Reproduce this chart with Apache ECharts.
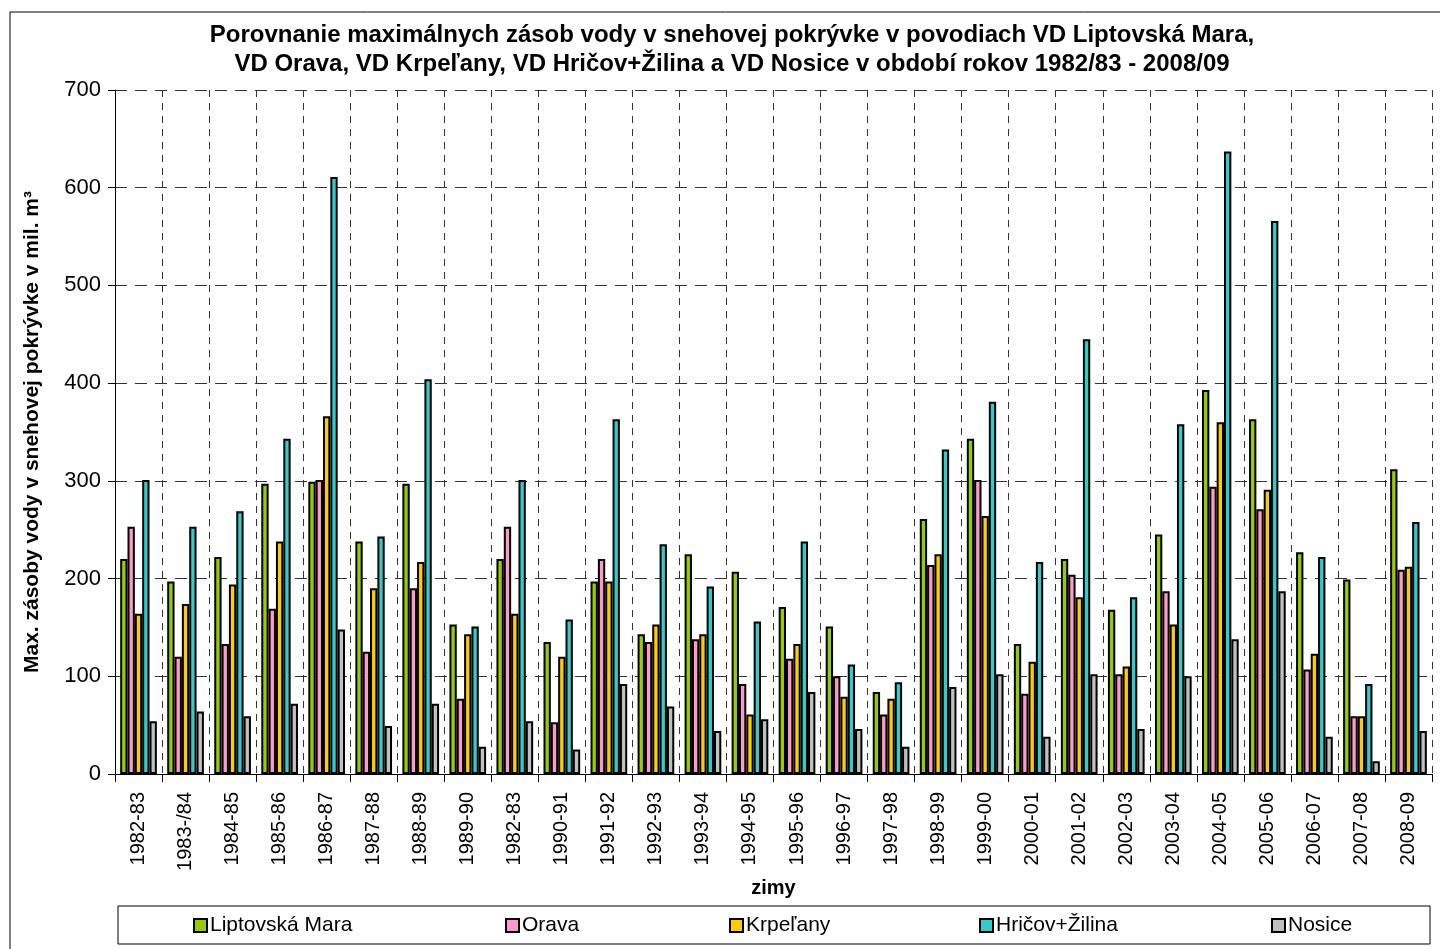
<!DOCTYPE html>
<html>
<head>
<meta charset="utf-8">
<script src="https://cdn.jsdelivr.net/npm/echarts@6/dist/echarts.min.js"></script>
<style>
  html, body { margin: 0; padding: 0; background: #fff; }
  #chart { width: 1440px; height: 949px; }
</style>
</head>
<body>
<div id="chart"></div>
<script>
// zimy (winters) - the 9th label repeats 1982-83 as in the original
const zimy = ['1982-83', '1983-/84', '1984-85', '1985-86', '1986-87', '1987-88', '1988-89', '1989-90',
  '1982-83', '1990-91', '1991-92', '1992-93', '1993-94', '1994-95', '1995-96', '1996-97', '1997-98',
  '1998-99', '1999-00', '2000-01', '2001-02', '2002-03', '2003-04', '2004-05', '2005-06', '2006-07',
  '2007-08', '2008-09']

const liptovskaMara = [220, 197, 222, 297, 299, 238, 297, 153, 220, 135, 197, 143, 225, 207, 171, 151, 84, 261, 343, 133, 220, 168, 245, 393, 363, 227, 199, 312]
const orava = [253, 120, 133, 169, 301, 125, 190, 77, 253, 53, 220, 135, 138, 92, 118, 100, 61, 214, 301, 82, 204, 102, 187, 294, 271, 107, 59, 209]
const krpelany = [164, 174, 194, 238, 366, 190, 217, 143, 164, 120, 197, 153, 143, 61, 133, 79, 77, 225, 264, 115, 181, 110, 153, 360, 291, 123, 59, 212]
const hricovZilina = [301, 253, 269, 343, 611, 243, 404, 151, 301, 158, 363, 235, 192, 156, 238, 112, 94, 332, 381, 217, 445, 181, 358, 637, 566, 222, 92, 258]
const nosice = [54, 64, 59, 72, 148, 49, 72, 28, 54, 25, 92, 69, 44, 56, 84, 46, 28, 89, 102, 38, 102, 46, 100, 138, 187, 38, 13, 44]

const seriesNames = ['Liptovská Mara', 'Orava', 'Krpeľany', 'Hričov+Žilina', 'Nosice']
const seriesColors = ['#99CC00', '#FF99CC', '#FFCC00', '#33CCCC', '#C0C0C0']
const seriesData = [liptovskaMara, orava, krpelany, hricovZilina, nosice]
const legendLeft = [193, 505, 729, 979, 1271]

const font = 'Liberation Sans, Arial, sans-serif'

const chart = echarts.init(document.getElementById('chart'))

const option = {
  animation: false,
  backgroundColor: '#fff',
  textStyle: { fontFamily: font },
  title: {
    text: 'Porovnanie maximálnych zásob vody v snehovej pokrývke v povodiach VD Liptovská Mara,\nVD Orava, VD Krpeľany, VD Hričov+Žilina a VD Nosice v období rokov 1982/83 - 2008/09',
    left: 727,
    textAlign: 'center',
    top: 16,
    textStyle: {
      fontFamily: font,
      fontSize: 24,
      fontWeight: 'bold',
      color: '#000',
      lineHeight: 29
    }
  },
  legend: seriesNames.map((name, i) => ({
    data: [name],
    left: legendLeft[i],
    top: 915,
    padding: 0,
    itemWidth: 13,
    itemHeight: 13,
    icon: 'rect',
    itemStyle: { borderColor: '#000', borderWidth: 2 },
    textStyle: { fontFamily: font, fontSize: 21, color: '#000', padding: [0, 0, 0, -2] }
  })),
  grid: {
    left: 115,
    right: 8,
    top: 90,
    bottom: 175
  },
  xAxis: {
    type: 'category',
    data: zimy,
    name: 'zimy',
    nameLocation: 'middle',
    nameGap: 103,
    nameTextStyle: { fontFamily: font, fontSize: 20, fontWeight: 'bold', color: '#000' },
    axisLine: { lineStyle: { color: '#000', width: 1 } },
    axisTick: { show: true, length: 8, lineStyle: { color: '#000' } },
    axisLabel: {
      rotate: 90,
      interval: 0,
      margin: 18,
      fontFamily: font,
      fontSize: 20,
      color: '#000'
    },
    splitLine: {
      show: true,
      lineStyle: { color: '#333', type: [7, 6], width: 1 }
    }
  },
  yAxis: {
    type: 'value',
    min: 0,
    max: 700,
    interval: 100,
    name: 'Max. zásoby vody v snehovej pokrývke v mil. m³',
    nameLocation: 'middle',
    nameGap: 72,
    nameTextStyle: { fontFamily: font, fontSize: 21, fontWeight: 'bold', color: '#000' },
    axisLine: { show: true, lineStyle: { color: '#000', width: 1 } },
    axisTick: { show: true, length: 7, lineStyle: { color: '#000' } },
    axisLabel: { margin: 14, fontFamily: font, fontSize: 22, color: '#000' },
    splitLine: {
      show: true,
      lineStyle: { color: '#333', type: [12, 8], width: 1 }
    }
  },
  graphic: [
    {
      type: 'rect',
      shape: { x: 10, y: 12, width: 1450, height: 960 },
      style: { fill: 'none', stroke: '#000', lineWidth: 1 },
      silent: true
    },
    {
      type: 'rect',
      shape: { x: 118, y: 906, width: 1312, height: 38 },
      style: { fill: 'none', stroke: '#000', lineWidth: 1 },
      silent: true
    }
  ],
  series: seriesNames.map((name, i) => ({
    name: name,
    type: 'bar',
    data: seriesData[i],
    barGap: '0%',
    barCategoryGap: '22%',
    itemStyle: {
      color: seriesColors[i],
      borderColor: '#000',
      borderWidth: 2
    }
  }))
}

chart.setOption(option)
</script>
</body>
</html>
